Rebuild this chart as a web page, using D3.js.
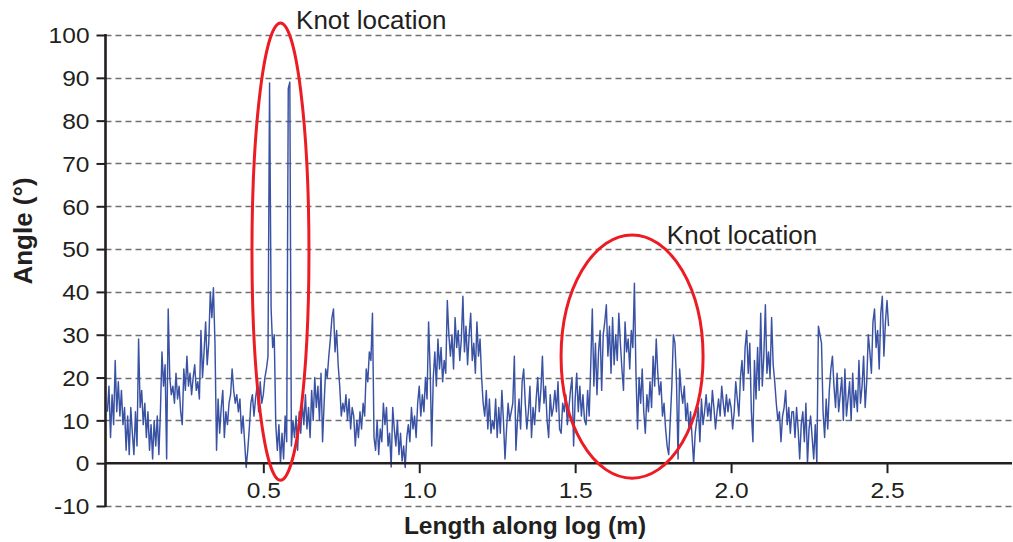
<!DOCTYPE html>
<html><head>
<meta charset="UTF-8">
<title>Angle along log</title>
<script src="https://d3js.org/d3.v7.min.js"></script>
<style>
  body { margin: 0; background: #fff; }
  svg { display: block; font-family: "Liberation Sans", Arial, sans-serif; }
  .grid { stroke: #707070; stroke-width: 1.3px; stroke-dasharray: 6,4; }
  .axisline { stroke: #231f20; stroke-width: 2.6px; }
  .trace { fill: none; stroke: #3a52a3; stroke-width: 1.45px; stroke-linejoin: round; }
  .knot { fill: none; stroke: #ec1c24; stroke-width: 3px; }
  text { fill: #231f20; }
</style>
</head>
<body>
<script>

// angle readings, one every 5 mm along the log (each row = 0.1 m)
var step = 0.005;
var angles = [
  12, 18, 6, 16, 9, 24, 12, 19, 11, 17, 9, 13, 3, 11, 2, 13, 7, 2, 12, 4,
  29, 13, 17, 9, 14, 6, 12, 3, 9, 1, 10, 4, 11, 2, 12, 26, 18, 23, 1, 36,
  20, 16, 18, 14, 21, 15, 18, 12, 9, 22, 17, 25, 18, 21, 16, 20, 23, 17, 19, 15,
  31, 20, 26, 33, 23, 28, 40, 34, 41, 28, 3, 15, 7, 13, 17, 6, 12, 9, 14, 16,
  22, 17, 14, 16, 12, 15, 7, 11, 5, -1, 3, 8, 14, 16, 11, 15, 18, 12, 19, 14,
  16, 20, 22, 25, 88.8, 36, 27, 30, 9, 3, 9, 0, 7, 1, 11, 5, 87.5, 89, 4, 10,
  6, 11, 3, 12, 7, 14, 9, 16, 8, 13, 6, 17, 10, 20, 13, 18, 10, 21, 5, 14,
  22, 20, 25, 29, 34, 36, 26, 31, 23, 18, 11, 14, 12, 16, 10, 15, 8, 13, 11, 4,
  10, 6, 12, 8, 14, 11, 22, 19, 26, 24, 35, 6, 3, 10, 2, 8, 5, 14, 9, 13,
  4, 7, -0.9, 13, 8, 4, 10, 2, 7, 0.5, 4, -1, 6, 9, 5, 13, 8, 11, 6, 14,
  18, 11, 16, 12, 20, 15, 33, 22, 4, 20, 26, 18, 29, 22, 27, 19, 24, 21, 38, 30,
  25, 30, 22, 34, 27, 31, 24, 29, 39, 26, 32, 23, 30, 35, 24, 28, 21, 33, 25, 29,
  20, 14, 11, 17, 8, 15, 7, 10, 8, 15, 6, 13, 7, 17, 10, 1, 8, 14, 10, 12,
  14, 25, 3, 10, 15, 8, 19, 22, 14, 8, 12, 18, 6, 13, 9, 15, 20, 12, 17, 25,
  14, 18, 10, 6, 16, 11, 13, 17, 12, 19, 8, 7, 14, 12, 16, 9, 13, 17, 20, 4,
  15, 21, 12, 18, 11, 16, 10, 9, 17, 11, 23, 36, 18, 28, 16, 26, 31, 17, 30, 33,
  37, 25, 32, 21, 34, 23, 30, 24, 35, 28, 22, 17, 33, 26, 29, 22, 31, 27, 42, 21,
  8, 20, 14, 22, 12, 7, 16, 12, 19, 13, 25, 18, 29, 21, 16, 19, 11, 14, 8, 4,
  2, 10, 18, 30, 28, 19, 1, 22, 17, 14, 18, 10, 14, 8, 12, 6, 0, 7, 10, 13,
  5, 15, 9, 12, 16, 11, 14, 10, 17, 13, 8, 12, 15, 11, 18, 14, 11, 16, 12, 15,
  13, 8, 12, 19, 15, 11, 20, 24, 17, 27, 31, 21, 28, 12, 5, 24, 15, 27, 17, 35,
  18, 25, 37, 21, 26, 20, 34, 23, 19, 14, 10, 12, 5, 11, 13, 17, 9, 13, 7, 12,
  12, 6, 13, 8, 1, 9, 12, 5, 14, 0, 8, 11, 6, 1, 9, 0, 32, 30, 28, 12,
  6, 15, 8, 17, 22, 25, 18, 13, 21, 12, 16, 20, 10, 22, 11, 15, 19, 10, 21, 13,
  17, 12, 24, 14, 18, 25, 13, 19, 30, 26, 21, 33, 36, 27, 31, 22, 35, 39, 25, 33,
  38, 32
];

var yTicks = [-10, 0, 10, 20, 30, 40, 50, 60, 70, 80, 90, 100];
var xTicks = [0.5, 1.0, 1.5, 2.0, 2.5];

// circled knot regions (centre and radii in metres / degrees)
var knots = [
  {cx: 0.555, cy: 49.4, rx: 0.0914, ry: 53.4, lx: 0.605, ly: 101.3},
  {cx: 1.6825, cy: 24.9, rx: 0.2277, ry: 28.4, lx: 1.794, ly: 51.2}
];

var W = 1013, H = 542;
var left = 105.5, right = 1012;

var svg = d3.select("body").append("svg")
    .attr("width", W)
    .attr("height", H);

var x = d3.scaleLinear().domain([0, 2.5]).range([107.4, 887]);
var y = d3.scaleLinear().domain([-10, 100]).range([506, 35]);

// dashed gridlines (0 gets the solid axis line instead)
svg.append("g").selectAll("line")
    .data(yTicks.filter(function(d){ return d != 0; }))
  .enter().append("line")
    .attr("class", "grid")
    .attr("x1", left).attr("x2", right)
    .attr("y1", function(d){ return Math.round(y(d)) + 0.5; })
    .attr("y2", function(d){ return Math.round(y(d)) + 0.5; });

// the trace
var line = d3.line()
    .x(function(d, i){ return x(i * step); })
    .y(function(d){ return y(d); });

svg.append("path")
    .datum(angles)
    .attr("class", "trace")
    .attr("d", line);

// y axis
var yAxis = d3.axisLeft(y).tickValues(yTicks).tickSize(9).tickPadding(14)
    .tickFormat(function(d){ return String(d); });
var gy = svg.append("g")
    .attr("transform", "translate(" + left + ",0)")
    .call(yAxis);
gy.select(".domain").remove();
gy.selectAll(".tick line").attr("stroke", "#231f20").attr("stroke-width", 2);
gy.selectAll(".tick text")
    .attr("font-family", "Liberation Sans, Arial, sans-serif")
    .attr("font-size", 21.5)
    .attr("fill", "#231f20")
    .attr("x", -16 / 1.14)
    .attr("dy", "0.36em")
    .attr("transform", "scale(1.14,1)");
svg.append("line")
    .attr("class", "axisline")
    .attr("x1", left).attr("x2", left)
    .attr("y1", y(100) - 1).attr("y2", y(-10) + 1);

// x axis along zero
var xAxis = d3.axisBottom(x).tickValues(xTicks).tickFormat(d3.format(".1f"))
    .tickSize(10).tickPadding(10);
var gx = svg.append("g")
    .attr("transform", "translate(0," + y(0) + ")")
    .call(xAxis);
gx.select(".domain").remove();
gx.selectAll(".tick line").attr("stroke", "#231f20").attr("stroke-width", 2);
gx.selectAll(".tick text")
    .attr("font-family", "Liberation Sans, Arial, sans-serif")
    .attr("font-size", 21.5)
    .attr("fill", "#231f20")
    .attr("transform", "scale(1.14,1)")
    .attr("x", 0)
    .attr("dy", "0.71em");
svg.append("line")
    .attr("class", "axisline")
    .attr("x1", left).attr("x2", right)
    .attr("y1", y(0)).attr("y2", y(0));

// knots
svg.append("g").selectAll("ellipse")
    .data(knots)
  .enter().append("ellipse")
    .attr("class", "knot")
    .attr("cx", function(d){ return x(d.cx); })
    .attr("cy", function(d){ return y(d.cy); })
    .attr("rx", function(d){ return x(d.cx + d.rx) - x(d.cx); })
    .attr("ry", function(d){ return y(d.cy - d.ry) - y(d.cy); });

svg.append("g").selectAll("text")
    .data(knots)
  .enter().append("text")
    .attr("x", function(d){ return x(d.lx); })
    .attr("y", function(d){ return y(d.ly); })
    .attr("font-size", 26)
    .text("Knot location");

// axis titles
svg.append("text")
    .attr("x", 525).attr("y", 534)
    .attr("text-anchor", "middle")
    .attr("font-size", 24.5)
    .attr("font-weight", "bold")
    .text("Length along log (m)");

svg.append("text")
    .attr("transform", "translate(32,231) rotate(-90)")
    .attr("text-anchor", "middle")
    .attr("font-size", 26)
    .attr("font-weight", "bold")
    .text("Angle (\u00b0)");

</script>
</body>
</html>
